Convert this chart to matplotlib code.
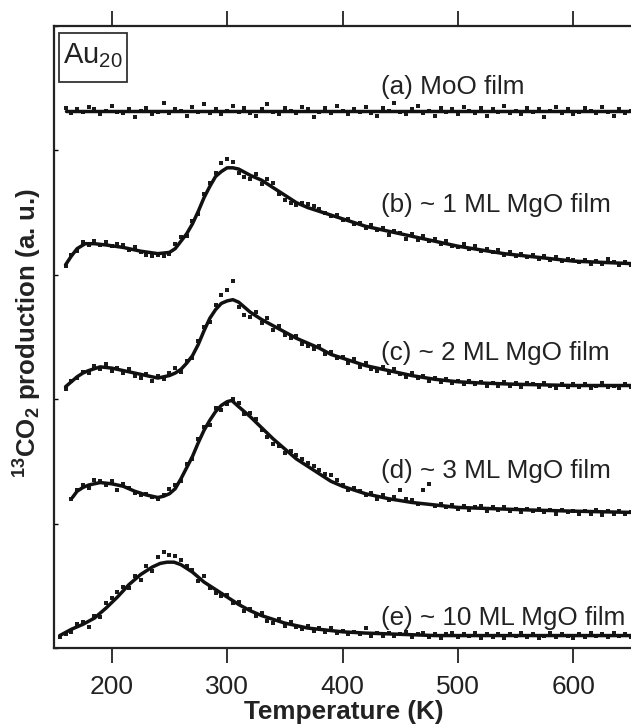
import numpy as np
import matplotlib
matplotlib.use("Agg")
import matplotlib.pyplot as plt
from matplotlib.patches import Rectangle

plt.rcParams['font.family'] = ['Liberation Sans', 'DejaVu Sans']
plt.rcParams['mathtext.fontset'] = 'custom'
plt.rcParams['mathtext.rm'] = 'Liberation Sans'
plt.rcParams['mathtext.bf'] = 'Liberation Sans:bold'
plt.rcParams['mathtext.it'] = 'Liberation Sans:italic'
plt.rcParams['mathtext.sf'] = 'Liberation Sans'

nan = float('nan')

# ---------------- data ----------------
# measured points (shared temperature grid, K)
temp_pts = [155, 160, 165, 170, 175, 180, 185, 190, 195, 200, 205, 210, 215, 220, 225, 230, 235, 240, 245, 250,
            255, 260, 265, 270, 275, 280, 285, 290, 295, 300, 305, 310, 315, 320, 325, 330, 335, 340, 345, 350,
            355, 360, 365, 370, 375, 380, 385, 390, 395, 400, 405, 410, 415, 420, 425, 430, 435, 440, 445, 450,
            455, 460, 465, 470, 475, 480, 485, 490, 495, 500, 505, 510, 515, 520, 525, 530, 535, 540, 545, 550,
            555, 560, 565, 570, 575, 580, 585, 590, 595, 600, 605, 610, 615, 620, 625, 630, 635, 640, 645, 650]

pts_a = [nan, 4.34, 4.30, 4.33, 4.31, 4.35, 4.33, 4.29, 4.32, 4.36, 4.31,
         4.30, 4.33, 4.27, 4.32, 4.34, 4.29, 4.31, 4.38, 4.30, 4.33,
         4.32, 4.28, 4.35, 4.31, 4.37, 4.30, 4.33, 4.29, 4.32, 4.36,
         4.31, 4.34, 4.30, 4.28, 4.33, 4.37, 4.31, 4.29, 4.34, 4.32,
         4.30, 4.35, 4.33, 4.27, 4.31, 4.34, 4.30, 4.36, 4.32, 4.29,
         4.33, 4.31, 4.35, 4.30, 4.28, 4.34, 4.32, 4.38, 4.31, 4.29,
         4.33, 4.36, 4.30, 4.32, 4.28, 4.34, 4.31, 4.33, 4.29, 4.35,
         4.32, 4.30, 4.34, 4.28, 4.33, 4.31, 4.36, 4.30, 4.32, 4.29,
         4.34, 4.31, 4.33, 4.27, 4.32, 4.35, 4.30, 4.33, 4.29, 4.31,
         4.34, 4.32, 4.30, 4.35, 4.31, 4.28, 4.33, 4.30, 4.32]

pts_b = [nan, 3.07, 3.16, 3.19, 3.26, 3.24, 3.27, 3.24, 3.26, 3.23, 3.25,
         3.24, 3.20, 3.22, 3.18, 3.16, 3.15, 3.16, 3.15, 3.17, 3.25,
         3.30, 3.31, 3.43, 3.49, 3.65, 3.74, 3.82, 3.90, 3.93, 3.91,
         3.82, 3.79, 3.77, 3.81, 3.73, 3.77, 3.74, 3.65, 3.60, 3.58,
         3.56, 3.58, 3.57, 3.55, 3.53, 3.50, 3.47, 3.48, 3.44, 3.45,
         3.41, 3.42, 3.38, 3.40, 3.36, 3.38, 3.32, 3.35, 3.34, 3.29,
         3.33, 3.28, 3.31, 3.27, 3.29, 3.25, 3.27, 3.23, 3.22, 3.25,
         3.21, 3.23, 3.19, 3.21, 3.18, 3.20, 3.16, 3.18, 3.15, 3.17,
         3.14, 3.16, 3.13, 3.15, 3.12, 3.14, 3.11, 3.13, 3.12, 3.10,
         3.12, 3.09, 3.11, 3.09, 3.13, 3.10, 3.08, 3.10, 3.08]

pts_c = [nan, 2.08, 2.15, 2.17, 2.22, 2.21, 2.27, 2.24, 2.28, 2.23, 2.25,
         2.21, 2.24, 2.19, 2.17, 2.20, 2.15, 2.19, 2.16, 2.21, 2.25,
         2.22, 2.31, 2.33, 2.47, 2.58, 2.62, 2.76, 2.84, 2.88, 2.95,
         2.74, 2.68, 2.66, 2.70, 2.61, 2.65, 2.56, 2.59, 2.52, 2.49,
         2.51, 2.44, 2.43, 2.40, 2.43, 2.36, 2.38, 2.33, 2.34, 2.29,
         2.32, 2.26, 2.29, 2.24, 2.23, 2.26, 2.21, 2.24, 2.20, 2.18,
         2.21, 2.17, 2.19, 2.15, 2.17, 2.14, 2.16, 2.13, 2.15, 2.12,
         2.15, 2.12, 2.14, 2.11, 2.13, 2.11, 2.14, 2.11, 2.13, 2.10,
         2.13, 2.12, 2.10, 2.13, 2.11, 2.09, 2.12, 2.10, 2.12, 2.10,
         2.12, 2.09, 2.11, 2.13, 2.10, 2.11, 2.09, 2.12, 2.10]

pts_d = [nan, nan, 1.20, 1.27, 1.31, 1.29, 1.35, 1.34, 1.31, 1.34, 1.27,
         1.32, 1.29, 1.25, 1.23, 1.24, 1.21, 1.20, 1.23, 1.28, 1.31,
         1.34, 1.48, 1.52, 1.68, 1.78, 1.79, 1.93, 1.91, 1.96, 2.00,
         1.97, 1.88, 1.89, 1.84, 1.75, 1.70, 1.64, 1.62, 1.57, 1.58,
         1.55, 1.52, 1.49, 1.46, 1.43, 1.40, 1.39, 1.35, 1.31, 1.27,
         1.29, 1.26, 1.23, 1.25, 1.20, 1.23, 1.19, 1.21, 1.27, 1.20,
         1.19, 1.16, 1.27, 1.32, 1.14, 1.16, 1.13, 1.15, 1.12, 1.14,
         1.11, 1.13, 1.14, 1.10, 1.13, 1.11, 1.13, 1.10, 1.12, 1.09,
         1.12, 1.10, 1.12, 1.09, 1.11, 1.08, 1.11, 1.09, 1.10, 1.08,
         1.10, 1.08, 1.11, 1.07, 1.10, 1.08, 1.10, 1.08, 1.09]

pts_e = [0.09, 0.11, 0.13, 0.19, 0.21, 0.17, 0.26, 0.25, 0.36, 0.40, 0.45,
         0.49, 0.48, 0.58, 0.55, 0.66, 0.62, 0.73, 0.77, 0.75, 0.74,
         0.71, 0.66, 0.63, 0.54, 0.58, 0.48, 0.44, 0.42, 0.43, 0.36,
         0.37, 0.30, 0.31, 0.26, 0.28, 0.22, 0.20, 0.23, 0.18, 0.21,
         0.17, 0.15, 0.18, 0.14, 0.16, 0.13, 0.16, 0.12, 0.14, 0.11,
         0.13, 0.11, 0.16, 0.10, 0.12, 0.10, 0.12, 0.10, 0.11, 0.13,
         0.09, 0.11, 0.12, 0.09, 0.11, 0.08, 0.11, 0.12, 0.09, 0.11,
         0.10, 0.12, 0.08, 0.11, 0.09, 0.11, 0.08, 0.11, 0.10, 0.12,
         0.09, 0.11, 0.08, 0.10, 0.12, 0.09, 0.11, 0.10, 0.08, 0.11,
         0.09, 0.12, 0.10, 0.11, 0.09, 0.12, 0.10, 0.11, 0.09]

# fitted curves
fit_a_T = [160, 650]
fit_a_y = [4.32, 4.32]

fit_b_T = [160, 165, 170, 177, 185, 195, 210, 225, 240, 250, 255, 260, 265, 270, 275, 280, 285, 290, 295, 300,
           305, 310, 320, 330, 340, 350, 360, 370, 380, 400, 420, 440, 460, 480, 500, 520, 540, 560, 580, 600, 625, 650]
fit_b_y = [3.08, 3.15, 3.21, 3.25, 3.25, 3.24, 3.22, 3.19, 3.17, 3.18, 3.21, 3.27, 3.33, 3.41, 3.51, 3.62, 3.71, 3.79, 3.83, 3.86,
           3.86, 3.85, 3.80, 3.76, 3.70, 3.64, 3.58, 3.54, 3.51, 3.45, 3.39, 3.35, 3.31, 3.27, 3.23, 3.20, 3.17, 3.15, 3.13, 3.11, 3.10, 3.09]

fit_c_T = [160, 165, 170, 175, 180, 190, 200, 210, 220, 230, 240, 250, 255, 260, 265, 270, 275, 280, 285, 290,
           295, 300, 305, 310, 320, 330, 340, 350, 360, 370, 380, 390, 400, 420, 440, 460, 480, 500, 520, 550, 600, 650]
fit_c_y = [2.10, 2.14, 2.18, 2.21, 2.23, 2.26, 2.25, 2.23, 2.21, 2.19, 2.17, 2.19, 2.21, 2.24, 2.29, 2.35, 2.44, 2.55, 2.65, 2.72,
           2.77, 2.79, 2.80, 2.78, 2.70, 2.64, 2.59, 2.54, 2.49, 2.45, 2.41, 2.36, 2.33, 2.27, 2.23, 2.19, 2.16, 2.14, 2.13, 2.12, 2.11, 2.11]

fit_d_T = [166, 170, 175, 180, 190, 200, 210, 220, 230, 240, 245, 250, 255, 260, 265, 270, 275, 280, 285, 290,
           295, 300, 304, 310, 320, 330, 340, 350, 360, 370, 380, 390, 400, 420, 440, 460, 480, 500, 530, 560, 600, 650]
fit_d_y = [1.21, 1.26, 1.29, 1.31, 1.33, 1.32, 1.30, 1.26, 1.23, 1.21, 1.22, 1.24, 1.28, 1.36, 1.45, 1.54, 1.65, 1.75, 1.83, 1.90,
           1.95, 1.98, 1.99, 1.94, 1.86, 1.77, 1.68, 1.60, 1.52, 1.46, 1.40, 1.34, 1.30, 1.24, 1.20, 1.17, 1.15, 1.13, 1.12, 1.11, 1.10, 1.09]

fit_e_T = [155, 165, 175, 185, 195, 205, 215, 225, 235, 242, 248, 254, 260, 270, 280, 290, 300, 310, 320, 330,
           340, 350, 360, 370, 380, 400, 420, 450, 480, 520, 580, 650]
fit_e_y = [0.10, 0.15, 0.19, 0.24, 0.32, 0.41, 0.51, 0.59, 0.65, 0.68, 0.69, 0.69, 0.67, 0.61, 0.53, 0.47, 0.41, 0.35, 0.30, 0.26,
           0.23, 0.20, 0.18, 0.16, 0.15, 0.13, 0.12, 0.11, 0.10, 0.10, 0.10, 0.10]

label_texts = ['(a) MoO film', '(b) ~ 1 ML MgO film', '(c) ~ 2 ML MgO film',
               '(d) ~ 3 ML MgO film', '(e) ~ 10 ML MgO film']
label_y = [4.45, 3.505, 2.315, 1.367, 0.185]
label_T = 433

# ---------------- figure ----------------
W, H = 631, 724
fig = plt.figure(figsize=(W / 100, H / 100), dpi=100)
ax = fig.add_axes([54 / W, 1 - 648 / H, 1 - 54 / W, (648 - 26) / H])

for pts in [pts_a, pts_b, pts_c, pts_d, pts_e]:
    ax.plot(temp_pts, pts, linestyle='none', marker='s', markersize=2.7,
            color='#1a1a1a', markeredgewidth=0)

for T, y in [(fit_a_T, fit_a_y), (fit_b_T, fit_b_y), (fit_c_T, fit_c_y),
             (fit_d_T, fit_d_y), (fit_e_T, fit_e_y)]:
    ax.plot(T, y, color='#111111', lw=2.5, solid_capstyle='round', solid_joinstyle='round')

for txt, yy in zip(label_texts, label_y):
    ax.text(label_T, yy, txt, fontsize=18.8, va='baseline', ha='left', color='#222222')

# Au20 tag with its frame
ax.add_patch(Rectangle((5 / 577, (648 - 82) / 622), 68 / 577, 49 / 622,
                       transform=ax.transAxes, fill=True, fc='white', ec='#333333', lw=1.3, zorder=4))
ax.text(9 / 577, (648 - 63) / 622, r'Au$_{\mathrm{20}}$', transform=ax.transAxes, fontsize=21,
        ha='left', va='baseline', color='#222222', zorder=5)

ax.set_xlim(150, 650)
ax.set_ylim(0, 5)
ax.set_xticks([200, 300, 400, 500, 600])
ax.set_yticks([0, 1, 2, 3, 4, 5])
ax.tick_params(axis='x', which='both', direction='out', length=10.5, width=1.3,
               top=True, labeltop=False, labelsize=19, pad=9, colors='#222222')
ax.tick_params(axis='y', which='both', direction='in', length=3, width=1.0,
               labelleft=False, left=True, right=False)
for s in ['left', 'bottom', 'top']:
    ax.spines[s].set_linewidth(1.6)
    ax.spines[s].set_color('#222222')
ax.spines['right'].set_visible(False)

fig.text(344 / W, 1 - 712 / H, 'Temperature (K)', fontsize=18.8, fontweight='bold',
         ha='center', va='center', color='#222222')
fig.text(28 / W, 1 - 333 / H, r'$^{\mathbf{13}}$CO$_{\mathbf{2}}$ production (a. u.)',
         fontsize=18.6, fontweight='bold', rotation=90, ha='center', va='center', color='#222222')

fig.savefig('out.png', dpi=100)
